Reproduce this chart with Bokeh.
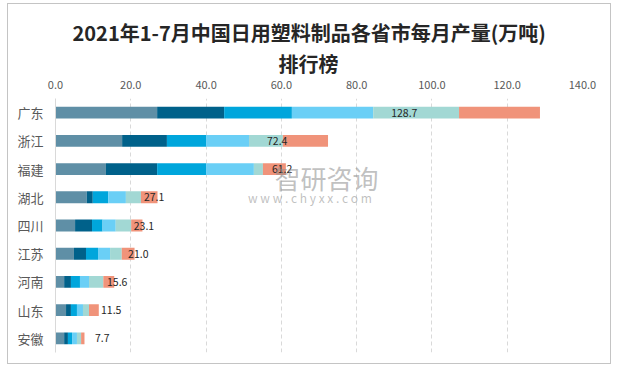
from bokeh.plotting import figure
from bokeh.models import FactorRange, Title, ColumnDataSource, Range1d, FixedTicker, PrintfTickFormatter
from bokeh.embed import file_html
from bokeh.resources import INLINE
from bokeh.core.properties import value

provinces = ["广东", "浙江", "福建", "湖北", "四川", "江苏", "河南", "山东", "安徽"]
totals = [128.7, 72.4, 61.2, 27.1, 23.1, 21.0, 15.6, 11.5, 7.7]
months = ["1-2月", "3月", "4月", "5月", "6月", "7月"]
m12 = [27.0, 17.7, 13.4, 8.3, 5.2, 4.9, 2.3, 2.8, 2.3]
m3 = [17.8, 11.9, 13.6, 1.6, 4.5, 3.2, 1.8, 1.3, 1.0]
m4 = [18.0, 10.4, 13.0, 4.1, 2.8, 3.2, 2.4, 1.6, 1.1]
m5 = [21.6, 11.4, 12.7, 4.7, 3.5, 3.2, 2.4, 1.6, 1.3]
m6 = [22.8, 9.0, 2.4, 4.0, 4.1, 3.1, 3.8, 1.6, 1.1]
m7 = [21.5, 12.0, 6.1, 4.4, 3.0, 3.4, 2.9, 2.6, 0.9]
x_ticks = [0, 20, 40, 60, 80, 100, 120, 140]

colors = ["#5f8fa6", "#00618a", "#00a6dc", "#6acff6", "#a2d8d4", "#f0937a"]
FONT = "Noto Sans CJK SC"

data = dict(province=provinces, total=[f"{t:.1f}" for t in totals])
for name, vals in zip(months, [m12, m3, m4, m5, m6, m7]):
    data[name] = vals
data["label_x"] = [a + b + c + d for a, b, c, d in zip(m12, m3, m4, m5)]
source = ColumnDataSource(data)

p = figure(width=604, height=361, output_backend="svg", toolbar_location=None,
           y_range=FactorRange(*reversed(provinces)), x_range=Range1d(0, 140),
           x_axis_location="above", min_border_left=47, min_border_right=30,
           min_border_bottom=13, min_border_top=94)
p.styles = {"border": "1px solid #c4c4c4", "margin": "3px 0px 0px 7px"}

p.hbar_stack(months, y="province", height=0.42, color=colors, source=source, line_width=0)

p.text(x="label_x", y="province", text="total", source=source, x_offset=18,
       text_align="left", text_baseline="middle", text_font=value(FONT),
       text_font_size="10.5px", text_color="#262626")

# watermark
p.text(x=[72], y=["福建"], text=["智研咨询"], y_offset=8, text_align="center",
       text_baseline="middle", text_font=value(FONT), text_font_size="26px",
       text_color="#8c8c8c", text_alpha=0.55)
p.text(x=[67.6], y=["湖北"], text=["w w w . c h y x x . c o m"], y_offset=0, text_align="center",
       text_baseline="middle", text_font=value(FONT), text_font_size="12px",
       text_color="#8c8c8c", text_alpha=0.55)

p.add_layout(Title(text="排行榜", align="left", offset=223, text_font=FONT, text_font_size="20px",
                   text_color="#262626", text_font_style="bold", standoff=0), "above")
p.add_layout(Title(text="2021年1-7月中国日用塑料制品各省市每月产量(万吨)", align="left", offset=17,
                   text_font=FONT, text_font_size="20px", text_color="#262626",
                   text_font_style="bold", standoff=0), "above")

xa = p.xaxis[0]
xa.ticker = FixedTicker(ticks=x_ticks)
xa.formatter = PrintfTickFormatter(format="%.1f")
xa.axis_line_color = None
xa.major_tick_line_color = None
xa.minor_tick_line_color = None
xa.major_label_text_font = FONT
xa.major_label_text_font_size = "11px"
xa.major_label_text_color = "#595959"
xa.major_label_standoff = 4

ya = p.yaxis[0]
ya.axis_line_color = "#d9d9d9"
ya.major_tick_line_color = None
ya.minor_tick_line_color = None
ya.major_label_text_font = FONT
ya.major_label_text_font_size = "13px"
ya.major_label_text_color = "#595959"
ya.major_label_standoff = 6

p.xgrid.grid_line_color = "#d9d9d9"
p.xgrid.grid_line_dash = "4 3"
p.ygrid.grid_line_color = None
p.outline_line_color = None
p.y_range.range_padding = 0

open("out.html", "w").write(file_html(p, INLINE))
